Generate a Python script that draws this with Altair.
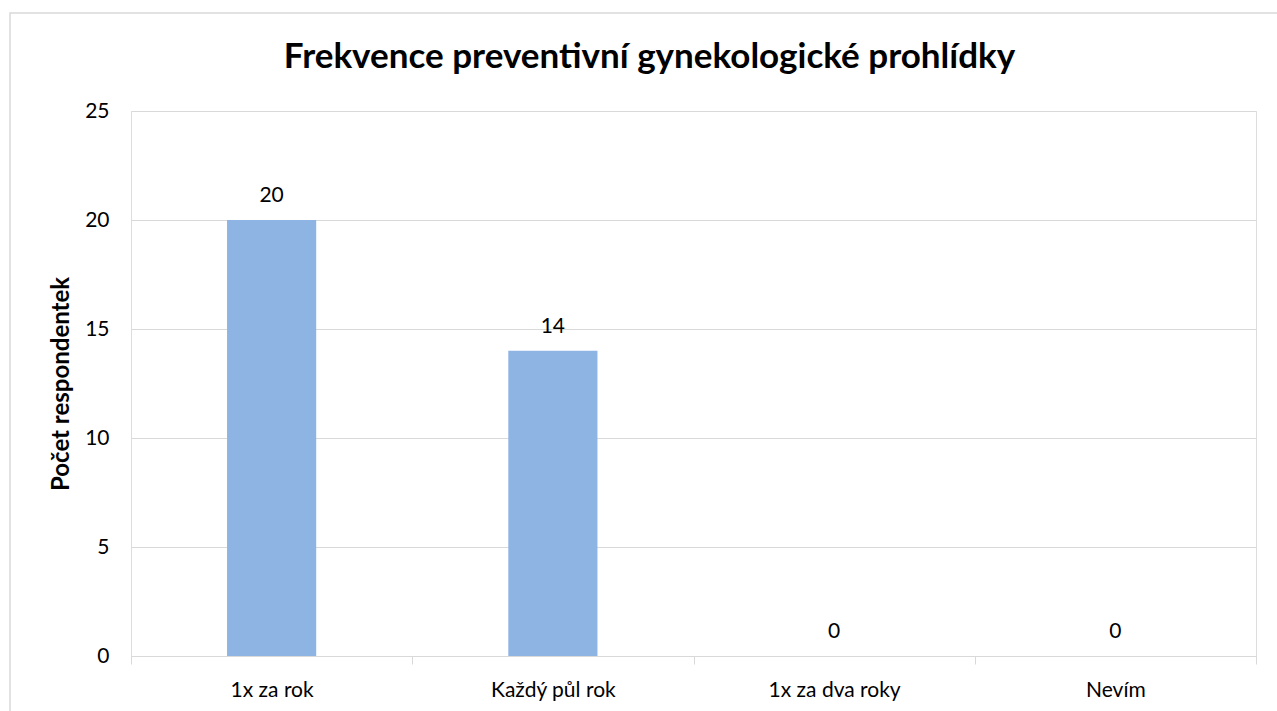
import altair as alt
import pandas as pd

categories = ["1x za rok", "Každý půl rok", "1x za dva roky", "Nevím"]
values = [20, 14, 0, 0]

title_text = "Frekvence preventivní gynekologické prohlídky"
y_title = "Počet respondentek"
y_ticks = [0, 5, 10, 15, 20, 25]

df = pd.DataFrame({"cat": categories, "val": values})

FONT = "Lato"
GRID = "#D9D9D9"
BAR = "#8EB4E3"

x_enc = alt.X(
    "cat:N",
    sort=categories,
    scale=alt.Scale(paddingInner=0, paddingOuter=0),
    axis=alt.Axis(
        title=None,
        labelAngle=0,
        labelFont=FONT,
        labelFontSize=21,
        labelColor="#000000",
        labelPadding=15,
        domainColor=GRID,
        domainWidth=1,
        tickColor=GRID,
        tickSize=8,
        tickBand="extent",
        grid=False,
    ),
)

y_enc = alt.Y(
    "val:Q",
    scale=alt.Scale(domain=[0, 25], nice=False),
    axis=alt.Axis(
        values=y_ticks,
        title=y_title,
        titleFont=FONT,
        titleFontSize=24,
        titleFontWeight="bold",
        titleColor="#000000",
        titlePadding=11,
        labelFont=FONT,
        labelFontSize=21,
        labelColor="#000000",
        labelPadding=22,
        domain=False,
        ticks=False,
        grid=True,
        gridColor=GRID,
        gridWidth=1,
    ),
)

bars = alt.Chart(df).mark_bar(color=BAR, width=alt.RelativeBandSize(0.317)).encode(
    x=x_enc, y=y_enc
)

labels = alt.Chart(df).mark_text(
    font=FONT, fontSize=21, color="#000000", baseline="alphabetic", dy=-18
).encode(x=alt.X("cat:N", sort=categories), y="val:Q", text="val:Q")

frame = alt.Chart(alt.Data(values=[{}])).mark_rect(
    fill=None, stroke=GRID, strokeWidth=1.5
).encode(
    x=alt.value(-121), x2=alt.value(1200), y=alt.value(-98), y2=alt.value(700)
)

chart = alt.layer(frame, bars, labels).properties(
    width=1125,
    height=545,
    title=alt.TitleParams(
        text=title_text,
        font=FONT,
        fontSize=35,
        fontWeight="bold",
        color="#000000",
        anchor="middle",
        baseline="alphabetic",
        dx=-44,
        offset=-91,
    ),
    padding={"left": 131, "top": 111, "right": 21, "bottom": 55},
    autosize=alt.AutoSizeParams(type="none"),
).configure_view(stroke=None).configure(background="#FFFFFF")

chart.save("out.html", embed_options={"renderer": "svg", "actions": False})
